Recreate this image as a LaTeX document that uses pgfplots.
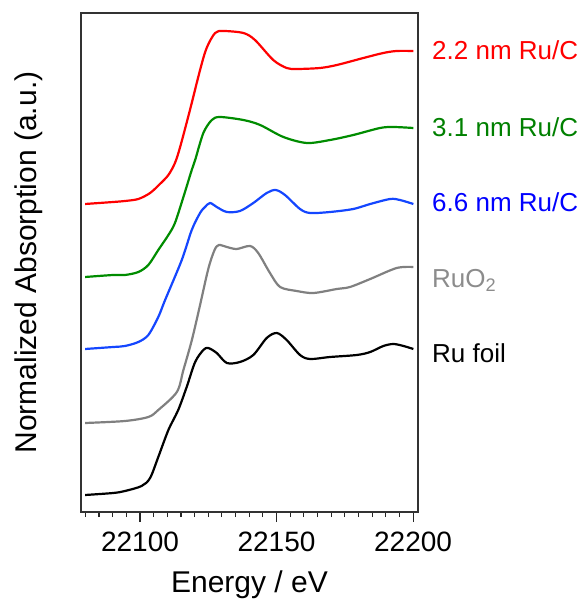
\documentclass[border=0pt]{standalone}
\usepackage{fontspec}
\setmainfont{Liberation Sans}
\usepackage{pgfplots}
\pgfplotsset{compat=1.18}

\definecolor{cred}{RGB}{255,0,0}
\definecolor{cgreen}{RGB}{0,140,0}
\definecolor{cblue}{RGB}{20,70,255}
\definecolor{cgray}{RGB}{128,128,128}
\definecolor{lgreen}{RGB}{0,128,0}
\definecolor{lblue}{RGB}{0,0,255}
\definecolor{lgray}{RGB}{140,140,140}

\begin{document}
\begin{tikzpicture}
\begin{axis}[
  scale only axis, width=337pt, height=499pt,
  xmin=22078.4, xmax=22201.8, ymin=0, ymax=4.99,
  scaled x ticks=false,
  xtick={22100,22150,22200}, xticklabels={22100,22150,22200},
  minor xtick={22080,22085,...,22200},
  xtick pos=bottom, tick align=outside,
  major tick length=10pt, minor tick length=5pt,
  ytick=\empty,
  axis line style={line width=1.4pt, black!80},
  major tick style={black!85, line width=1.1pt},
  minor tick style={black!85, line width=1.1pt},
  xticklabel style={font=\fontsize{28}{30}\selectfont, yshift=-6pt},
  xlabel={Energy / eV}, ylabel={Normalized Absorption (a.u.)},
  xlabel style={font=\fontsize{30}{32}\selectfont, at={(axis description cs:0.5,0)}, anchor=base, yshift=-80pt},
  ylabel style={font=\fontsize{30}{32}\selectfont, at={(axis description cs:-0.1335,0.5)}, anchor=base},
  clip=false,
  every axis plot/.append style={line width=2.2pt, smooth, tension=0.5},
]
% Ru foil
\addplot[black] coordinates {
(22079.9,0.17) (22090.2,0.19) (22094.5,0.21) (22100.6,0.26) (22103.7,0.34)
(22106.7,0.55) (22110.4,0.82) (22114.0,1.02) (22117.1,1.25) (22120.2,1.50)
(22123.2,1.62) (22125.0,1.64) (22128.1,1.59)
(22131.8,1.49) (22136.6,1.50) (22141.5,1.57) (22146.4,1.74) (22150.1,1.79)
(22153.7,1.72) (22158.6,1.57) (22162.3,1.53) (22169.6,1.55) (22179.4,1.57)
(22184.3,1.60) (22189.1,1.66) (22192.8,1.68) (22196.5,1.66) (22200.1,1.63)};
% RuO2
\addplot[cgray] coordinates {
(22079.9,0.89) (22094.5,0.91) (22103.05,0.95) (22106.7,1.02) (22113.5,1.20)
(22115.9,1.42) (22119.0,1.72) (22122.0,2.07) (22125.0,2.43) (22127.3,2.62)
(22128.9,2.67)
(22131.8,2.65) (22135.4,2.63) (22140.3,2.66) (22143.3,2.59) (22147.6,2.39)
(22151.3,2.25) (22157.4,2.21) (22163.5,2.19) (22172.1,2.23) (22176.9,2.25)
(22184.3,2.33) (22194.0,2.44) (22200.1,2.45)};
% 6.6 nm
\addplot[cblue] coordinates {
(22079.9,1.63) (22090.2,1.65) (22094.5,1.66) (22099.4,1.70) (22103.05,1.77)
(22106.7,1.95) (22109.2,2.12) (22115.3,2.52) (22118.95,2.82)
(22122.0,2.99) (22123.8,3.05) (22125.65,3.09)
(22128.1,3.05) (22131.8,3.00) (22136.6,3.01) (22141.5,3.09) (22146.4,3.19)
(22149.7,3.22) (22153.1,3.17) (22158.6,3.03) (22162.3,2.99) (22169.6,3.00)
(22178.1,3.03) (22184.3,3.08) (22191.6,3.13) (22195.2,3.12) (22200.1,3.08)};
% 3.1 nm
\addplot[cgreen] coordinates {
(22079.9,2.35) (22090.2,2.37) (22094.5,2.37) (22099.4,2.40) (22103.05,2.47)
(22106.7,2.62) (22110.4,2.77) (22112.8,2.89) (22115.9,3.15) (22118.95,3.42)
(22120.2,3.52) (22123.2,3.79)
(22126.3,3.92) (22129.3,3.95) (22137.85,3.92) (22144.0,3.87) (22152.5,3.75)
(22161.1,3.69) (22169.6,3.72) (22178.1,3.77) (22187.9,3.84) (22192.8,3.85)
(22200.1,3.84)};
% 2.2 nm
\addplot[cred] coordinates {
(22079.9,3.08) (22090.2,3.10) (22094.5,3.11) (22099.4,3.13) (22103.7,3.19)
(22107.3,3.28) (22110.4,3.37) (22112.8,3.49) (22114.7,3.65)
(22118.3,4.02) (22122.0,4.42) (22124.4,4.64) (22127.5,4.79)
(22130.5,4.81) (22137.85,4.79) (22142.1,4.72) (22148.8,4.52) (22153.7,4.44)
(22157.4,4.43) (22165.9,4.44) (22172.1,4.47) (22181.8,4.54) (22189.1,4.59)
(22194.0,4.61) (22200.1,4.61)};

\begin{scope}[every node/.style={anchor=base west, inner sep=0pt, font=\fontsize{26}{28}\selectfont, xshift=14pt}]
\node[text=cred]  at (rel axis cs:1,0.9072) {2.2 nm Ru/C};
\node[text=lgreen] at (rel axis cs:1,0.7535) {3.1 nm Ru/C};
\node[text=lblue] at (rel axis cs:1,0.6012) {6.6 nm Ru/C};
\node[text=lgray] at (rel axis cs:1,0.4503) {RuO\textsubscript{2}};
\node[text=black] at (rel axis cs:1,0.2994) {Ru foil};
\end{scope}
\end{axis}
\pgfresetboundingbox
\path[use as bounding box] (current axis.south west) ++(-81pt,-87pt) rectangle ++(579pt,599pt);
\end{tikzpicture}
\end{document}
